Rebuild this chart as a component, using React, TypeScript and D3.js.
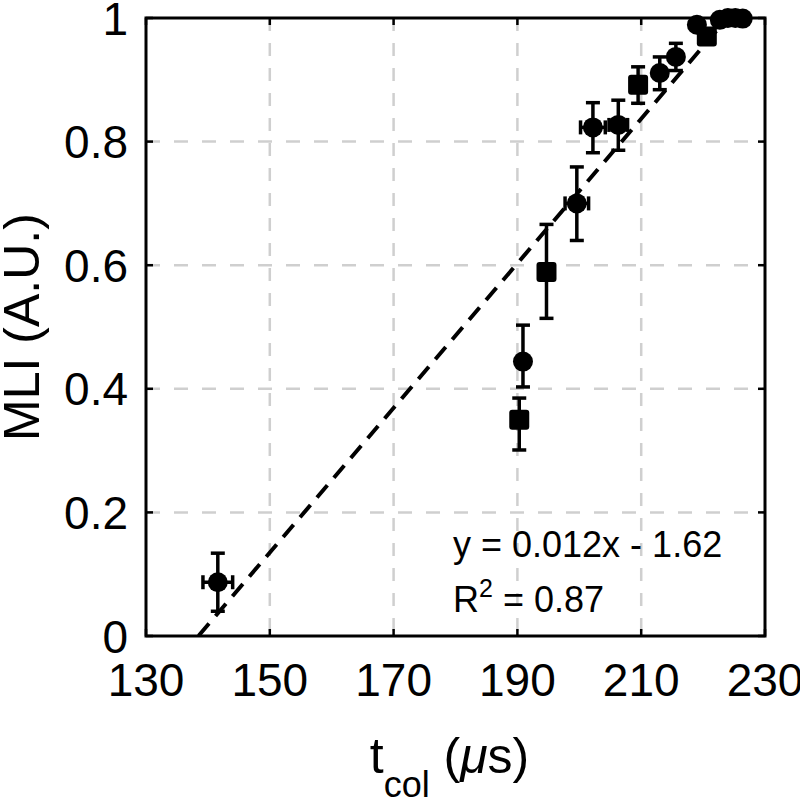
import React from "react";
import * as d3 from "d3";

const xVals = [141.6, 190.3, 190.9, 194.7, 199.6, 202.2, 206.3, 209.5, 213.0, 215.6, 219.0, 220.6, 222.7, 224.0, 225.2, 226.4];
const yVals = [0.087, 0.350, 0.444, 0.589, 0.700, 0.823, 0.827, 0.892, 0.911, 0.937, 0.989, 0.970, 0.997, 1.0, 1.0, 0.999];
const yErrLow = [0.047, 0.049, 0.041, 0.075, 0.060, 0.041, 0.041, 0.030, 0.027, 0.022, 0.006, 0.008, 0.004, 0.003, 0.003, 0.003];
const yErrHigh = [0.047, 0.035, 0.059, 0.077, 0.059, 0.040, 0.040, 0.029, 0.026, 0.022, 0.006, 0.008, 0.003, 0.003, 0.003, 0.003];
const xErr = [2.4, 0.4, 0.4, 0.5, 1.9, 2.0, 1.5, 0.6, 0.8, 0.6, 0.6, 0.6, 0.5, 0.5, 0.5, 0.5];
const markerShapes = ["o", "s", "o", "s", "o", "o", "o", "s", "o", "o", "o", "s", "o", "o", "o", "o"];

const xTicks = [130, 150, 170, 190, 210, 230];
const yTicks = [0, 0.2, 0.4, 0.6, 0.8, 1];
const yTickLabels = ["0", "0.2", "0.4", "0.6", "0.8", "1"];

const fitSlope = 0.0117;
const fitIntercept = -1.62;
const fitXRange = [138.5, 224];

const FONT = "'Liberation Sans', Arial, Helvetica, sans-serif";

export default function App() {
  const left = 146, right = 765, top = 18, bottom = 636;
  const x = d3.scaleLinear().domain([130, 230]).range([left, right]);
  const y = d3.scaleLinear().domain([0, 1]).range([bottom, top]);
  const tickLen = 7;
  const cap = 7;

  const fitLine = d3.line<number>()
    .x((d) => x(d))
    .y((d) => y(fitSlope * d + fitIntercept));

  return (
    <svg width={800} height={799} style={{ position: "absolute", left: 0, top: 0, background: "#fff" }}>
      <rect x={0} y={0} width={800} height={799} fill="#fff" />
      {/* grid */}
      {xTicks.slice(1, -1).map((t) => (
        <line key={"gx" + t} x1={x(t)} x2={x(t)} y1={top} y2={bottom} stroke="#cfcfcf" strokeWidth={2.5} strokeDasharray="13,12" />
      ))}
      {yTicks.slice(1, -1).map((t) => (
        <line key={"gy" + t} x1={left} x2={right} y1={y(t)} y2={y(t)} stroke="#cfcfcf" strokeWidth={2.5} strokeDasharray="14,14" />
      ))}
      {/* fit line */}
      <path d={fitLine(fitXRange) || ""} fill="none" stroke="#000" strokeWidth={4} strokeDasharray="16,10" />
      {/* error bars */}
      {xVals.map((xv, i) => {
        const cx = x(xv), cy = y(yVals[i]);
        const yt = y(yVals[i] + yErrHigh[i]), yb = y(yVals[i] - yErrLow[i]);
        const xl = x(xv - xErr[i]), xr = x(xv + xErr[i]);
        return (
          <g key={"e" + i} stroke="#000" strokeWidth={3.5}>
            <line x1={cx} x2={cx} y1={yt} y2={yb} />
            <line x1={cx - cap} x2={cx + cap} y1={yt} y2={yt} />
            <line x1={cx - cap} x2={cx + cap} y1={yb} y2={yb} />
            <line x1={xl} x2={xr} y1={cy} y2={cy} />
            <line x1={xl} x2={xl} y1={cy - cap} y2={cy + cap} />
            <line x1={xr} x2={xr} y1={cy - cap} y2={cy + cap} />
          </g>
        );
      })}
      {/* markers */}
      {xVals.map((xv, i) => {
        const cx = x(xv), cy = y(yVals[i]);
        return markerShapes[i] === "s" ? (
          <rect key={"m" + i} x={cx - 10} y={cy - 10} width={20} height={20} rx={3} fill="#000" />
        ) : (
          <circle key={"m" + i} cx={cx} cy={cy} r={10} fill="#000" />
        );
      })}
      {/* frame */}
      <rect x={left} y={top} width={right - left} height={bottom - top} fill="none" stroke="#000" strokeWidth={3} />
      {/* ticks */}
      {xTicks.map((t) => (
        <g key={"tx" + t} stroke="#000" strokeWidth={2.5}>
          <line x1={x(t)} x2={x(t)} y1={bottom} y2={bottom - tickLen} />
          <line x1={x(t)} x2={x(t)} y1={top} y2={top + tickLen} />
        </g>
      ))}
      {yTicks.map((t) => (
        <g key={"ty" + t} stroke="#000" strokeWidth={2.5}>
          <line x1={left} x2={left + tickLen} y1={y(t)} y2={y(t)} />
          <line x1={right} x2={right - tickLen} y1={y(t)} y2={y(t)} />
        </g>
      ))}
      {/* tick labels */}
      {xTicks.map((t) => (
        <text key={"lx" + t} x={x(t)} y={696} textAnchor="middle" fontFamily={FONT} fontSize={46} fill="#000">{t}</text>
      ))}
      {yTicks.map((t, i) => (
        <text key={"ly" + t} x={128} y={y(t) + 16.5} textAnchor="end" fontFamily={FONT} fontSize={46} fill="#000">{yTickLabels[i]}</text>
      ))}
      {/* axis titles */}
      <text transform={`translate(39, ${(top + bottom) / 2}) rotate(-90)`} textAnchor="middle" fontFamily={FONT} fontSize={50} fill="#000">MLI (A.U.)</text>
      <text x={(left + right) / 2 - 6} y={773} textAnchor="middle" fontFamily={FONT} fontSize={50} fill="#000">
        t<tspan fontSize={36} dy={24}>col</tspan><tspan dy={-24}> (</tspan><tspan fontStyle="italic">μ</tspan>s)
      </text>
      {/* annotation */}
      <text x={453} y={557} fontFamily={FONT} fontSize={36} fill="#000">y = 0.012x - 1.62</text>
      <text x={453} y={612} fontFamily={FONT} fontSize={36} fill="#000">
        R<tspan fontSize={25} dy={-15}>2</tspan><tspan dy={15}> = 0.87</tspan>
      </text>
    </svg>
  );
}
